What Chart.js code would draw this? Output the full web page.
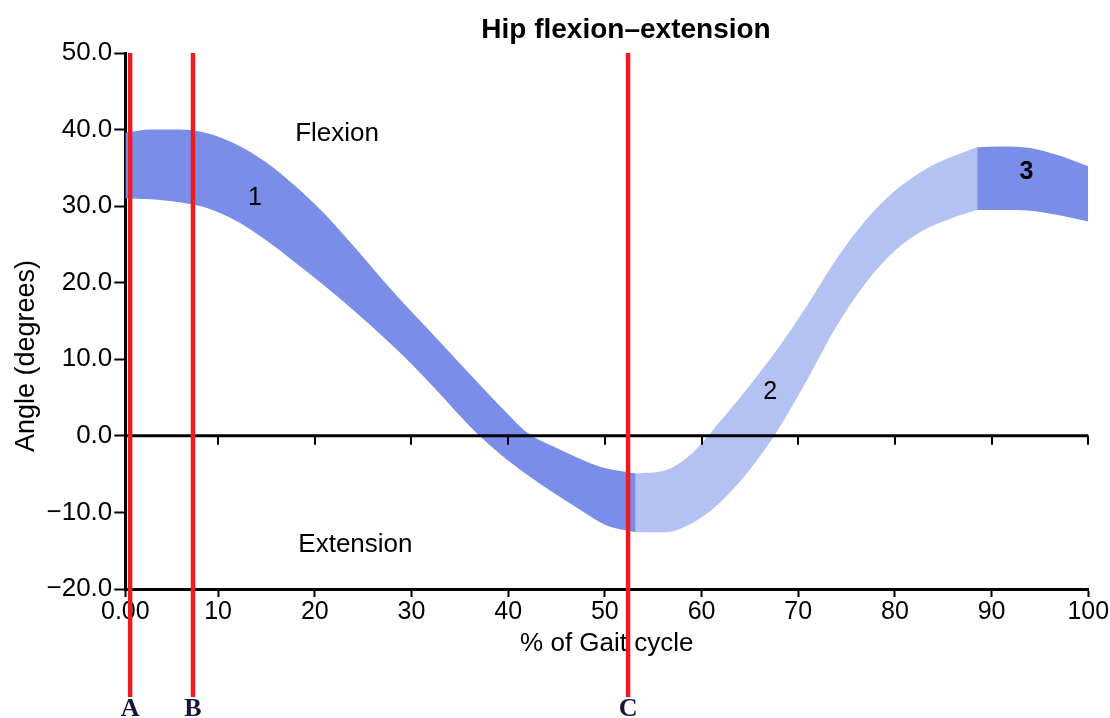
<!DOCTYPE html>
<html><head><meta charset="utf-8">
<script src="https://cdn.jsdelivr.net/npm/chart.js@4.4.1/dist/chart.umd.min.js"></script>
<style>html,body{margin:0;padding:0;background:#fff;}#wrap{width:1110px;height:718px;}</style>
</head><body><div id="wrap"><canvas id="c" width="1110" height="718"></canvas></div>
<script>
// ---- data ----
const gaitPct    = [0.4, 3, 6, 9, 12, 15, 18, 21, 24, 27, 30, 33, 36, 39, 42, 45, 48, 50, 53.2, 56, 59, 62, 65, 68, 71, 74, 77, 80, 83, 86, 88.5, 91, 94, 97, 100];
const upperAngle = [39.6, 40.0, 40.0, 39.5, 38.0, 35.7, 32.6, 29.0, 24.8, 20.4, 16.2, 12.2, 8.1, 4.1, 0.4, -1.6, -3.3, -4.2, -4.9, -4.6, -2.3, 2.0, 6.6, 11.6, 17.2, 23.2, 28.2, 32.0, 34.7, 36.5, 37.7, 37.8, 37.6, 36.6, 35.2];
const lowerAngle = [31.0, 30.9, 30.5, 29.7, 28.0, 25.5, 22.6, 19.6, 16.4, 13.0, 9.4, 5.4, 1.3, -2.2, -5.1, -7.7, -10.1, -11.6, -12.6, -12.6, -11.4, -8.6, -4.4, 1.0, 7.5, 14.4, 20.0, 24.2, 26.9, 28.5, 29.5, 29.5, 29.4, 28.8, 28.0];
const phaseBreaks = [0.4, 53.2, 88.5, 100];
const phaseNames  = ['1', '2', '3'];
const xTickValues = [0.4, 10, 20, 30, 40, 50, 60, 70, 80, 90, 100];
const yTickValues = [-20, -10, 0, 10, 20, 30, 40, 50];
const eventNames = ['A', 'B', 'C'];
const eventPct   = [0.9, 7.4, 52.4];
const noteTexts = ['Flexion', 'Extension', '1', '2', '3'];
const noteX     = [22.3, 24.2, 13.8, 67.1, 93.6];
const noteY     = [39.4, -14.2, 31.0, 5.7, 34.4];

// ---- styles ----
const phaseColors = ['#7a8de8', '#b4c1f3', '#7a8de8'];
const SANS = '"Liberation Sans", Arial, Helvetica, sans-serif';
const SERIF = '"Liberation Serif", "Times New Roman", serif';

const datasets = [];
for (let p = 0; p < 3; p++) {
  const lo = phaseBreaks[p], hi = phaseBreaks[p + 1];
  const idx = gaitPct.map((x, i) => i).filter(i => gaitPct[i] >= lo && gaitPct[i] <= hi);
  const common = { borderWidth: 0, pointRadius: 0, pointHoverRadius: 0, cubicInterpolationMode: 'monotone', borderColor: 'rgba(0,0,0,0)' };
  datasets.push(Object.assign({ label: 'Phase ' + phaseNames[p] + ' upper', data: idx.map(i => ({ x: gaitPct[i], y: upperAngle[i] })), fill: '+1', backgroundColor: phaseColors[p] }, common));
  datasets.push(Object.assign({ label: 'Phase ' + phaseNames[p] + ' lower', data: idx.map(i => ({ x: gaitPct[i], y: lowerAngle[i] })), fill: false, backgroundColor: phaseColors[p] }, common));
}

const overlay = {
  id: 'overlay',
  afterDatasetsDraw(chart) {
    const ctx = chart.ctx, xs = chart.scales.x, ys = chart.scales.y, a = chart.chartArea;
    const y0 = ys.getPixelForValue(0);
    ctx.save();
    ctx.strokeStyle = '#000';
    ctx.lineWidth = 3;
    ctx.beginPath(); ctx.moveTo(a.left, y0); ctx.lineTo(a.right, y0); ctx.stroke();
    ctx.lineWidth = 2;
    xTickValues.slice(1).forEach(v => {
      const px = Math.round(xs.getPixelForValue(v));
      ctx.beginPath(); ctx.moveTo(px, y0); ctx.lineTo(px, y0 + 9); ctx.stroke();
    });
    ctx.restore();
  },
  afterDraw(chart) {
    const ctx = chart.ctx, xs = chart.scales.x, ys = chart.scales.y, a = chart.chartArea;
    ctx.save();
    ctx.fillStyle = '#000';
    ctx.textAlign = 'center';
    ctx.textBaseline = 'middle';
    noteTexts.forEach((t, i) => {
      const big = t.length > 1;
      ctx.font = (t === '3' ? 'bold ' : '') + (big ? '26px ' : '25px ') + SANS;
      ctx.fillText(t, xs.getPixelForValue(noteX[i]), ys.getPixelForValue(noteY[i]));
    });
    ctx.font = 'bold 28px ' + SANS;
    ctx.textBaseline = 'alphabetic';
    ctx.fillText('Hip flexion\u2013extension', 626, 38);
    ctx.save();
    ctx.translate(34, 356);
    ctx.rotate(-Math.PI / 2);
    ctx.font = '27px ' + SANS;
    ctx.fillText('Angle (degrees)', 0, 0);
    ctx.restore();
    eventPct.forEach((v, i) => {
      const px = xs.getPixelForValue(v);
      ctx.strokeStyle = '#ec1c24';
      ctx.lineWidth = 4.5;
      ctx.beginPath(); ctx.moveTo(px, a.top); ctx.lineTo(px, 697); ctx.stroke();
      ctx.fillStyle = '#15153a';
      ctx.font = 'bold 26px ' + SERIF;
      ctx.fillText(eventNames[i], px, 716);
    });
    ctx.restore();
  }
};

new Chart(document.getElementById('c'), {
  type: 'line',
  data: { datasets },
  plugins: [overlay],
  options: {
    responsive: false,
    animation: false,
    devicePixelRatio: 1,
    layout: { padding: { left: 0, right: 21.7, top: 53, bottom: 59 } },
    plugins: { legend: { display: false }, tooltip: { enabled: false }, title: { display: false } },
    scales: {
      x: {
        type: 'linear', min: 0.4, max: 100,
        afterBuildTicks: s => { s.ticks = xTickValues.map(v => ({ value: v })); },
        afterFit: s => { s.height = 70; },
        ticks: { color: '#000', font: { family: SANS, size: 25 }, padding: 0, maxRotation: 0, autoSkip: false,
          callback: v => (v < 1 ? '0.00' : String(v)) },
        grid: { drawOnChartArea: false, drawTicks: true, tickLength: 8, tickColor: '#000', tickWidth: 2 },
        border: { display: true, color: '#000', width: 3 },
        title: { display: true, text: '% of Gait cycle', color: '#000', font: { family: SANS, size: 26 }, padding: { top: 0, bottom: 0 } }
      },
      y: {
        type: 'linear', min: -20, max: 50,
        afterBuildTicks: s => { s.ticks = yTickValues.map(v => ({ value: v })); },
        afterFit: s => { s.width = 125.3; },
        ticks: { color: '#000', font: { family: SANS, size: 26 }, padding: 2,
          callback: v => (v < 0 ? '\u2212' + Math.abs(v).toFixed(1) : v.toFixed(1)) },
        grid: { drawOnChartArea: false, drawTicks: true, tickLength: 11, tickColor: '#000', tickWidth: 2 },
        border: { display: true, color: '#000', width: 3 },
        title: { display: false }
      }
    }
  }
});
</script>
</body></html>
